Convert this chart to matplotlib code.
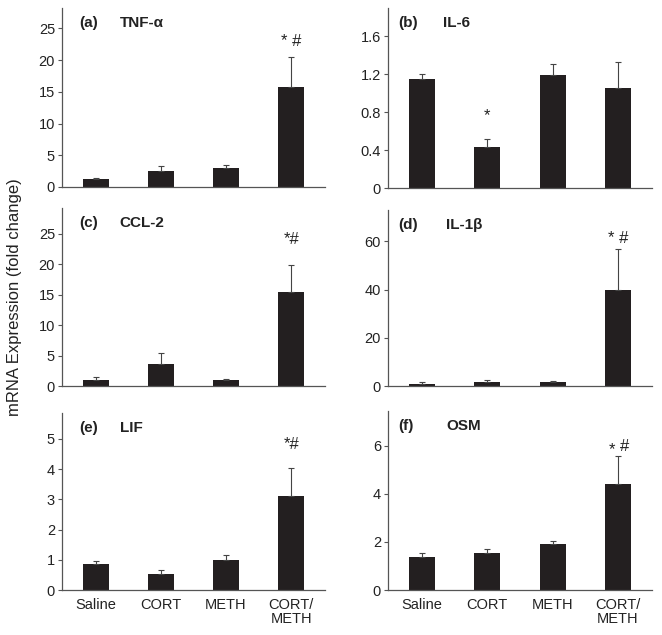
import matplotlib
matplotlib.use("Agg")
import matplotlib.pyplot as plt

plt.rcParams['font.family'] = ['Liberation Sans', 'DejaVu Sans']

groups = ["Saline", "CORT", "METH", "CORT/\nMETH"]

tnf_mean = [1.2, 2.5, 3.0, 15.8]
tnf_err = [0.2, 0.8, 0.5, 4.7]
il6_mean = [1.15, 0.43, 1.19, 1.06]
il6_err = [0.05, 0.09, 0.12, 0.27]
ccl2_mean = [1.0, 3.6, 1.0, 15.4]
ccl2_err = [0.4, 1.8, 0.2, 4.4]
il1b_mean = [1.0, 1.5, 1.7, 40.0]
il1b_err = [0.5, 1.0, 0.3, 17.0]
lif_mean = [0.87, 0.52, 0.98, 3.12]
lif_err = [0.08, 0.13, 0.17, 0.91]
osm_mean = [1.38, 1.56, 1.90, 4.42]
osm_err = [0.14, 0.14, 0.13, 1.15]

panels = [
    dict(tag="(a)", name="TNF-α", mean=tnf_mean, err=tnf_err, ylim=28.2,
         ticks=[0, 5, 10, 15, 20, 25], sig=[(3, "* #", 21.8)],
         pos=[62, 8, 325, 187], tx=(0.065, 0.22)),
    dict(tag="(b)", name="IL-6", mean=il6_mean, err=il6_err, ylim=1.9,
         ticks=[0, 0.4, 0.8, 1.2, 1.6], sig=[(1, "*", 0.68)],
         pos=[388, 8, 652, 188], tx=(0.04, 0.21)),
    dict(tag="(c)", name="CCL-2", mean=ccl2_mean, err=ccl2_err, ylim=29.2,
         ticks=[0, 5, 10, 15, 20, 25], sig=[(3, "*#", 22.8)],
         pos=[62, 208, 325, 386], tx=(0.065, 0.22)),
    dict(tag="(d)", name="IL-1β", mean=il1b_mean, err=il1b_err, ylim=73,
         ticks=[0, 20, 40, 60], sig=[(3, "* #", 58)],
         pos=[388, 210, 652, 386], tx=(0.04, 0.22)),
    dict(tag="(e)", name="LIF", mean=lif_mean, err=lif_err, ylim=5.86,
         ticks=[0, 1, 2, 3, 4, 5], sig=[(3, "*#", 4.58)],
         pos=[62, 413, 325, 590], tx=(0.065, 0.22)),
    dict(tag="(f)", name="OSM", mean=osm_mean, err=osm_err, ylim=7.45,
         ticks=[0, 2, 4, 6], sig=[(2.9, "*", 5.52), (3.1, "#", 5.68)],
         pos=[388, 411, 652, 590], tx=(0.04, 0.22)),
]

W, H = 662, 635
fig = plt.figure(figsize=(W / 100, H / 100), dpi=100)

bar_color = "#231f20"
spine_color = "#555555"
x = list(range(len(groups)))

for i, p in enumerate(panels):
    x0, y0, x1, y1 = p["pos"]
    ax = fig.add_axes([x0 / W, 1 - y1 / H, (x1 - x0) / W, (y1 - y0) / H])
    ax.bar(x, p["mean"], width=0.4, color=bar_color, zorder=2)
    ax.errorbar(x, p["mean"], yerr=[[0] * 4, p["err"]], fmt="none",
                ecolor="#444444", elinewidth=0.8, capsize=2.2, capthick=0.8, zorder=3)
    ax.set_xlim(-0.52, 3.52)
    ax.set_ylim(0, p["ylim"])
    ax.set_yticks(p["ticks"])
    ax.set_yticklabels(["{:g}".format(t) for t in p["ticks"]])
    for s in ["top", "right"]:
        ax.spines[s].set_visible(False)
    for s in ["left", "bottom"]:
        ax.spines[s].set_color(spine_color)
        ax.spines[s].set_linewidth(0.9)
    ax.tick_params(axis="y", direction="out", length=3, width=0.8,
                   color=spine_color, labelsize=10.5, labelcolor="#222222", pad=2)
    if i >= 4:
        ax.set_xticks(x)
        ax.set_xticklabels(groups, fontsize=10.5, color="#222222", linespacing=0.95)
        ax.tick_params(axis="x", length=0, pad=6)
    else:
        ax.set_xticks([])
    ax.text(p["tx"][0], 0.915, p["tag"], transform=ax.transAxes, fontsize=11,
            fontweight="bold", va="center", ha="left", color="#222222")
    ax.text(p["tx"][1], 0.915, p["name"], transform=ax.transAxes, fontsize=11,
            fontweight="bold", va="center", ha="left", color="#222222")
    for (xi, label, yv) in p["sig"]:
        ax.text(xi, yv, label, ha="center", va="bottom", fontsize=12, color="#222222")

fig.text(15 / W, 1 - 297 / H, "mRNA Expression (fold change)", rotation=90,
         ha="center", va="center", fontsize=12, color="#222222")

fig.savefig("out.png", dpi=100, facecolor="white")
